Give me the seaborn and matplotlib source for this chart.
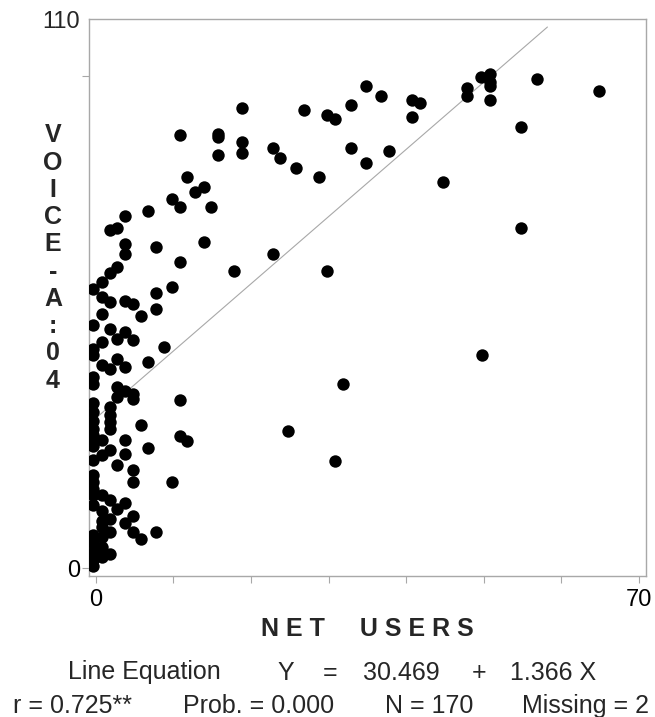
import pandas as pd
import matplotlib
matplotlib.use("Agg")
import matplotlib.pyplot as plt
import matplotlib.transforms as mtransforms
import numpy as np
import seaborn as sns

# values
net_users = [18.8, 26.8, 29.8, 30.8, 32.9, 10.9, 15.8, 15.8, 18.8, 18.8,
             15.8, 22.8, 23.8, 25.8, 28.8, 32.9, 11.8, 13.9, 12.8, 9.8,
             10.8, 14.9, 6.8, 3.8, 1.8, 2.8, 3.8, 3.8, 7.8, 13.9,
             10.9, 22.8, 17.8, 29.8, 7.8, 9.8, 3.8, 34.8, 36.8, 40.8,
             41.8, 40.8, 47.8, 47.8, 49.7, 50.8, 50.8, 50.8, 50.8, 56.8,
             64.8, 54.8, 34.8, 37.8, 44.8, 54.8, 49.8, 31.9, 24.8, 30.8,
             7.8, 8.8, 6.8, 10.8, 5.8, 10.8, 11.8, 6.8, 9.8, 7.8,
             5.8, 4.8, 2.8, 1.8, 0.8, -0.3, 0.8, 1.8, 4.8, 0.8,
             5.8, -0.3, 1.8, 3.8, 2.8, 4.8, 0.8, -0.3, -0.3, 2.8,
             3.8, 0.8, 1.8, -0.3, -0.3, 2.8, 3.8, 4.8, 2.8, 4.8,
             -0.3, 1.8, 1.8, 1.8, 1.8, -0.3, -0.3, -0.3, -0.3, 0.8,
             -0.3, 3.8, -0.3, 1.8, 3.8, -0.3, 0.8, 2.8, 4.8, 4.8,
             -0.3, -0.3, -0.3, -0.3, 0.8, 1.8, -0.3, 3.8, 2.8, 0.8,
             1.8, 0.8, 0.8, 4.8, 3.8, 1.8, -0.3, 0.8, -0.3, 0.8,
             1.8, 0.8, -0.3, -0.3, -0.3]
voice = [93.6, 93.1, 92.1, 91.3, 94.1, 88.1, 88.3, 87.6, 86.7, 84.3,
         83.9, 85.3, 83.3, 81.4, 79.4, 85.4, 79.4, 77.5, 76.5, 75.1,
         73.5, 73.5, 72.5, 71.6, 68.7, 69.1, 65.8, 63.8, 65.2, 66.3,
         62.3, 63.8, 60.4, 60.4, 55.9, 57.1, 54.4, 97.9, 95.9, 95.1,
         94.5, 91.7, 97.6, 96.0, 99.9, 100.5, 98.8, 97.9, 95.1, 99.4,
         96.9, 89.7, 82.4, 84.8, 78.5, 69.1, 43.3, 37.5, 27.8, 21.9,
         52.6, 44.9, 41.9, 34.1, 29.2, 26.9, 25.8, 24.4, 17.6, 7.3,
         5.9, 7.4, 61.3, 60.0, 58.2, 56.7, 55.2, 54.1, 53.6, 51.6,
         51.3, 49.4, 48.7, 48.0, 46.6, 46.3, 45.9, 44.6, 43.3, 42.6,
         40.9, 41.3, 40.5, 38.8, 37.5, 36.8, 36.1, 35.5, 34.8, 34.5,
         33.5, 32.8, 31.1, 29.7, 28.4, 31.8, 30.0, 28.4, 27.0, 26.0,
         25.7, 26.0, 24.8, 24.0, 23.3, 22.0, 23.0, 20.9, 19.9, 17.5,
         18.9, 17.5, 16.2, 14.9, 14.9, 13.9, 12.8, 13.3, 12.1, 11.7,
         10.1, 9.7, 8.4, 10.7, 9.3, 7.4, 6.7, 6.4, 5.1, 4.4,
         3.0, 2.3, 3.4, 1.7, 0.4]

intercept = 30.469
slope = 1.366
line_x = [0, 58.2]
x_ticks = [0, 10, 20, 30, 40, 50, 60, 70]
x_labels = ['0', '', '', '', '', '', '', '70']
y_ticks = [0, 100]
y_labels = ['0', '']
y_top_label = '110'

df = pd.DataFrame({'net': net_users, 'voice': voice})
fit = pd.DataFrame({'x': line_x, 'y': [intercept + slope * v for v in line_x]})

sns.set_style('white')
plt.rcParams['font.family'] = ['Liberation Sans', 'DejaVu Sans']

W, H = 655, 717
fig = plt.figure(figsize=(W / 100, H / 100), dpi=100)
ax = fig.add_axes([89 / W, 1 - 576 / H, (646 - 89) / W, (576 - 19) / H])

sns.lineplot(data=fit, x='x', y='y', ax=ax, color='#a8a8a8', linewidth=0.8)
sns.scatterplot(data=df, x='net', y='voice', ax=ax, color='black',
                s=80, linewidth=0, zorder=3)

ax.set_xlim(-0.86, 70.9)
ax.set_ylim(-1.56, 111.6)
ax.set_xticks(x_ticks)
ax.set_xticklabels(x_labels)
ax.set_yticks(y_ticks)
ax.set_yticklabels(y_labels)
ax.set_xlabel('')
ax.set_ylabel('')
for sp in ax.spines.values():
    sp.set_visible(True)
    sp.set_color('#a8a8a8')
    sp.set_linewidth(1)
ax.tick_params(axis='both', direction='out', length=5, width=0.8,
               color='#a8a8a8', labelsize=17, labelcolor='black')
ax.tick_params(axis='x', pad=4)
ax.tick_params(axis='y', pad=1.5)
ax.tick_params(bottom=True, left=True)

# top value label of the y axis
trans = mtransforms.blended_transform_factory(ax.transAxes, ax.transData)
ax.text(-9 / 557, 110.9, y_top_label, transform=trans, fontsize=17,
        ha='right', va='center')

def px(x, y):
    return x / W, 1 - y / H

fig.text(*px(367, 636), 'N E T     U S E R S', fontsize=18, fontweight='bold',
         ha='center', va='baseline')
fig.text(*px(53, 258), '\n'.join('VOICE-A:04'), fontsize=18, fontweight='bold',
         ha='center', va='center', linespacing=1.17)

row1 = [(68, 'Line Equation'), (277, 'Y'), (323, '='), (363, '30.469'),
        (472, '+'), (510, '1.366 X')]
row2 = [(13, 'r = 0.725**'), (183, 'Prob. = 0.000'), (385, 'N = 170'),
        (522, 'Missing = 2')]
for x0, t in row1:
    fig.text(*px(x0, 679.5), t, fontsize=18, ha='left', va='baseline')
for x0, t in row2:
    fig.text(*px(x0, 713), t, fontsize=18, ha='left', va='baseline')

fig.savefig('out.png', dpi=100)
